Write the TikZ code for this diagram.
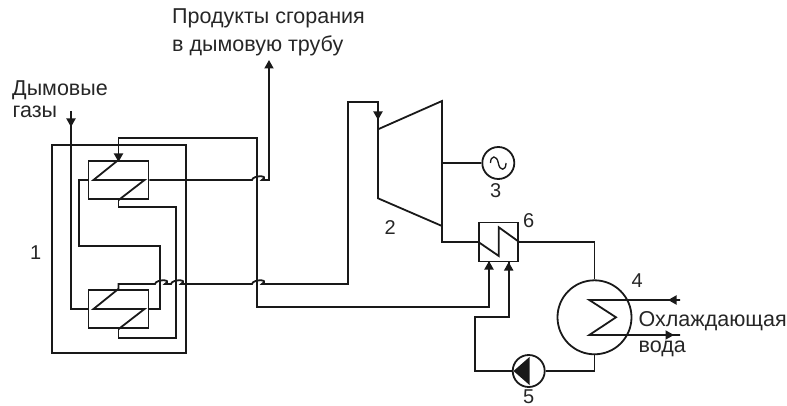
\documentclass[tikz,border=0pt]{standalone}
\usepackage{fontspec}
\setmainfont{Liberation Sans}
\usetikzlibrary{arrows.meta}
\tikzset{
  ln/.style={line width=1.8pt,line join=miter,color=black!90},
  box/.style={draw=black!90,line width=1.8pt,rectangle,inner sep=0pt,minimum width=60pt,minimum height=38.5pt},
  ring/.style={draw=black!90,line width=1.8pt,circle,inner sep=0pt},
  lab/.style={font=\fontsize{21.5}{24}\selectfont,text=black!85,inner sep=0pt,anchor=base west},
  digit/.style={font=\fontsize{20}{24}\selectfont,text=black!85,inner sep=0pt,anchor=base west},
  tipmark/.style={line width=1.8pt,color=black!90,-{Triangle[length=8.5pt,width=9pt]}}
}
\begin{document}
\begin{tikzpicture}[x=1pt,y=-1pt]
\useasboundingbox (0,0) rectangle (787,406);
% casing and exchangers
\node[box,minimum width=134pt,minimum height=208pt] (case) at (118.7,249) {};
\node[box] (hxA) at (118.5,180) {};
\node[box] (hxB) at (118.5,309) {};
\node[box,minimum width=39pt,minimum height=39pt] (hxC) at (498.8,242) {};
% turbine
\coordinate (t1) at (378,129.3);
\coordinate (t2) at (442,101);
\coordinate (t3) at (442,226);
\coordinate (t4) at (378,198.3);
\draw[ln] (t1) -- (t2) -- (t3) -- (t4) -- cycle;
% generator, condenser, pump
\node[ring,minimum size=32pt] (gen) at (498.3,163) {};
\node[ring,minimum size=74pt] (cond) at (594.5,317.3) {};
\node[ring,minimum size=32pt] (pump) at (528.7,371) {};
% free ends
\coordinate (gasin) at (71,111);
\coordinate (flue) at (269,62);
\coordinate (cwin) at (680,300);
\coordinate (cwout) at (680,335);
% coils
\draw[ln] (hxA.north) -- (93.5,180) -- (144.5,180) -- (hxA.south);
\draw[ln] (hxB.north) -- (93.5,309) -- (144.5,309) -- (hxB.south);
\draw[ln] (hxC.west) -- (498.8,256) -- (498.8,227.3) -- (hxC.east);
\draw[ln] (cwin) -- (589.3,300) -- (616,317.3) -- (589.3,335) -- (cwout);
% pipes
\draw[ln] (gasin) -- (71,309) -- (hxB.west);
\draw[ln] (hxA.west) -- (79.3,180) -- (79.3,245.7) -- (160,245.7) -- (160,309) -- (hxB.east);
\draw[ln] (hxA.south) -- (118.5,207) -- (176,207) -- (176,337.7) -- (118.5,337.7) -- (hxB.south);
\draw[ln] (hxA.east) -- (252,180) .. controls +(1,-5) and +(8,-5) .. ++(10,0) -- (269,180) -- (flue);
\draw[ln] (hxA.north) -- (118.5,138) -- (257,138) -- (257,307) -- (489,307) -- (489,261.7);
\draw[ln] (hxB.north) -- (118.5,284) -- (155,284) .. controls +(1,-5) and +(8,-5) .. ++(10,0)
  -- (171,284) .. controls +(1,-5) and +(8,-5) .. ++(10,0)
  -- (252,284) .. controls +(1,-5) and +(8,-5) .. ++(10,0)
  -- (348,284) -- (348,102) -- (378,102) -- (t1);
\draw[ln] (442,163) -- (gen.west);
\draw[ln] (t3) -- (442,242) -- (hxC.west);
\draw[ln] (hxC.east) -- (594.5,242) -- (cond.north);
\draw[ln] (cond.south) -- (594.5,371) -- (pump.east);
\draw[ln] (pump.west) -- (475,371) -- (475,317.3) -- (508.7,317.3) -- (508.7,261.7);
% pump symbol and generator sine
\fill[black!90] (513.5,371) -- (529.5,357) -- (529.5,385) -- cycle;
\draw[line width=1.3pt,color=black!90] (490.5,163) .. controls (490.5,155) and (497,155) .. (498.3,163) .. controls (499.6,171.3) and (506,171.3) .. (506,163);
% arrowheads
\draw[tipmark] (71,117) -- (71,127);
\draw[tipmark] (118.5,150) -- (118.5,162);
\draw[tipmark] (269,72) -- (269,60);
\draw[tipmark] (378,108) -- (378,120);
\draw[tipmark] (489,266) -- (489,261);
\draw[tipmark] (508.7,270) -- (508.7,262);
\draw[tipmark] (678,300) -- (668,300);
\draw[tipmark] (660,335) -- (674,335);
% labels
\node[lab] (l1) at (172,24) {Продукты сгорания};
\node[lab] (l2) at (172,51.5) {в дымовую трубу};
\node[lab] (l3) at (12,96) {Дымовые};
\node[lab] (l4) at (12.5,118) {газы};
\node[digit] (n1) at (30,259) {1};
\node[digit] (n2) at (384.5,234) {2};
\node[digit] (n3) at (490,198) {3};
\node[digit] (n4) at (631.5,287) {4};
\node[digit] (n5) at (523,403) {5};
\node[digit] (n6) at (523,227) {6};
\node[lab] (c1) at (638.5,326) {Охлаждающая};
\node[lab] (c2) at (638.5,352) {вода};
\end{tikzpicture}
\end{document}
